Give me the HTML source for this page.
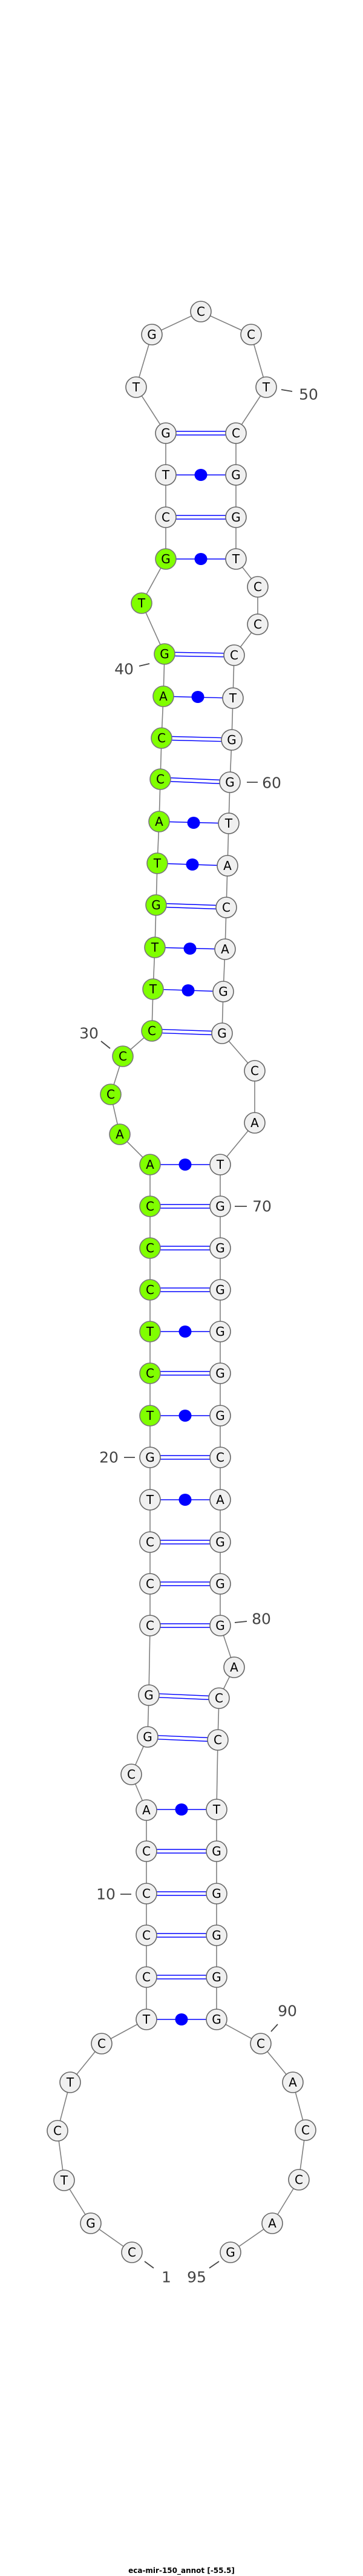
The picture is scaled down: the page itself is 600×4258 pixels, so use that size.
<!DOCTYPE html>
<html><head><meta charset="utf-8"><style>
html,body{margin:0;padding:0;background:#fff;}
svg{display:block;}
.n{fill:#f0f0f0;stroke:#666;stroke-width:1.6;}
.g{fill:#80ff00;stroke:#777;stroke-width:1.6;}
.t{font-family:"DejaVu Sans","Liberation Sans",sans-serif;font-size:20px;fill:#000;text-anchor:middle;dominant-baseline:central;}
.l{font-family:"DejaVu Sans","Liberation Sans",sans-serif;font-size:25px;fill:#444;text-anchor:middle;dominant-baseline:central;}
.p{stroke:#00f;stroke-width:1.4;fill:none;}
.tk{stroke:#444;stroke-width:1.8;}
</style></head><body>
<svg width="600" height="4258" viewBox="0 0 600 4258" xmlns="http://www.w3.org/2000/svg">
<polyline fill="none" stroke="#808080" stroke-width="1.6" points="218,3723 150,3675 106,3604 95,3522 116,3442 168,3378 242,3338 242,3268 242,3199 242,3130 242,3060 242,2992 217,2933 244,2871 246,2802 248,2687 248,2618 248,2549 248,2479 248,2409 248,2340 248,2270 248,2201 248,2132 248,2063 248,1994 248,1925 198,1875 183,1809 203,1746 251,1704 253,1635 256,1566 258,1496 260,1427 263,1358 265,1288 267,1220 270,1151 272,1081 234,997 274,924 274,855 274,785 274,716 225,640 251,553 332,515 415,553 440,640 390,716 390,785 390,855 390,924 426,970 426,1032 387,1083 385,1154 383,1223 380,1293 378,1361 376,1431 374,1500 372,1569 369,1639 367,1708 421,1770 421,1856 364,1925 364,1994 364,2063 364,2132 364,2201 364,2270 364,2340 364,2409 364,2479 364,2549 364,2618 364,2687 387,2756 362,2807 360,2876 358,2991 358,3060 358,3130 358,3199 358,3268 358,3338 431,3378 484,3442 505,3521 494,3603 450,3675 381,3723"/>
<!-- double pairs -->
<g class="p">
<path d="M274,713 L390,713 M274,719 L390,719"/>
<path d="M274,852 L390,852 M274,858 L390,858"/>
<path d="M272,1078 L387,1080 M272,1084 L387,1086"/>
<path d="M267,1217 L383,1220 M267,1223 L383,1226"/>
<path d="M265,1285 L380,1290 M265,1291 L380,1296"/>
<path d="M258,1493 L374,1497 M258,1499 L374,1503"/>
<path d="M251,1701 L367,1705 M251,1707 L367,1711"/>
<path d="M248,1991 L364,1991 M248,1997 L364,1997"/>
<path d="M248,2060 L364,2060 M248,2066 L364,2066"/>
<path d="M248,2129 L364,2129 M248,2135 L364,2135"/>
<path d="M248,2267 L364,2267 M248,2273 L364,2273"/>
<path d="M248,2406 L364,2406 M248,2412 L364,2412"/>
<path d="M248,2546 L364,2546 M248,2552 L364,2552"/>
<path d="M248,2615 L364,2615 M248,2621 L364,2621"/>
<path d="M248,2684 L364,2684 M248,2690 L364,2690"/>
<path d="M246,2799 L362,2804 M246,2805 L362,2810"/>
<path d="M244,2868 L360,2873 M244,2874 L360,2879"/>
<path d="M242,3057 L358,3057 M242,3063 L358,3063"/>
<path d="M242,3127 L358,3127 M242,3133 L358,3133"/>
<path d="M242,3196 L358,3196 M242,3202 L358,3202"/>
<path d="M242,3265 L358,3265 M242,3271 L358,3271"/>
<path d="M274,785 L390,785"/><path d="M274,924 L390,924"/>
<path d="M270,1151 L385,1154"/><path d="M263,1358 L378,1361"/>
<path d="M260,1427 L376,1431"/><path d="M256,1566 L372,1569"/>
<path d="M253,1635 L369,1639"/><path d="M248,1925 L364,1925"/>
<path d="M248,2201 L364,2201"/><path d="M248,2340 L364,2340"/>
<path d="M248,2479 L364,2479"/><path d="M242,2991 L358,2991"/>
<path d="M242,3338 L358,3338"/>
</g>
<g fill="#00f">
<ellipse cx="332" cy="785" rx="10.5" ry="10"/><ellipse cx="332" cy="924" rx="10.5" ry="10"/>
<ellipse cx="327" cy="1152" rx="10.5" ry="10"/><ellipse cx="320" cy="1360" rx="10.5" ry="10"/>
<ellipse cx="318" cy="1429" rx="10.5" ry="10"/><ellipse cx="314" cy="1568" rx="10.5" ry="10"/>
<ellipse cx="311" cy="1637" rx="10.5" ry="10"/><ellipse cx="306" cy="1925" rx="10.5" ry="10"/>
<ellipse cx="306" cy="2201" rx="10.5" ry="10"/><ellipse cx="306" cy="2340" rx="10.5" ry="10"/>
<ellipse cx="306" cy="2479" rx="10.5" ry="10"/><ellipse cx="300" cy="2991" rx="10.5" ry="10"/>
<ellipse cx="300" cy="3338" rx="10.5" ry="10"/>
</g>
<!-- nodes -->
<g>
<circle class="n" cx="218" cy="3723" r="17"/><text class="t" x="218" y="3723">C</text>
<circle class="n" cx="150" cy="3675" r="17"/><text class="t" x="150" y="3675">G</text>
<circle class="n" cx="106" cy="3604" r="17"/><text class="t" x="106" y="3604">T</text>
<circle class="n" cx="95" cy="3522" r="17"/><text class="t" x="95" y="3522">C</text>
<circle class="n" cx="116" cy="3442" r="17"/><text class="t" x="116" y="3442">T</text>
<circle class="n" cx="168" cy="3378" r="17"/><text class="t" x="168" y="3378">C</text>
<circle class="n" cx="242" cy="3338" r="17"/><text class="t" x="242" y="3338">T</text>
<circle class="n" cx="242" cy="3268" r="17"/><text class="t" x="242" y="3268">C</text>
<circle class="n" cx="242" cy="3199" r="17"/><text class="t" x="242" y="3199">C</text>
<circle class="n" cx="242" cy="3130" r="17"/><text class="t" x="242" y="3130">C</text>
<circle class="n" cx="242" cy="3060" r="17"/><text class="t" x="242" y="3060">C</text>
<circle class="n" cx="242" cy="2992" r="17"/><text class="t" x="242" y="2992">A</text>
<circle class="n" cx="217" cy="2933" r="17"/><text class="t" x="217" y="2933">C</text>
<circle class="n" cx="244" cy="2871" r="17"/><text class="t" x="244" y="2871">G</text>
<circle class="n" cx="246" cy="2802" r="17"/><text class="t" x="246" y="2802">G</text>
<circle class="n" cx="248" cy="2687" r="17"/><text class="t" x="248" y="2687">C</text>
<circle class="n" cx="248" cy="2618" r="17"/><text class="t" x="248" y="2618">C</text>
<circle class="n" cx="248" cy="2549" r="17"/><text class="t" x="248" y="2549">C</text>
<circle class="n" cx="248" cy="2479" r="17"/><text class="t" x="248" y="2479">T</text>
<circle class="n" cx="248" cy="2409" r="17"/><text class="t" x="248" y="2409">G</text>
<circle class="g" cx="248" cy="2340" r="17"/><text class="t" x="248" y="2340">T</text>
<circle class="g" cx="248" cy="2270" r="17"/><text class="t" x="248" y="2270">C</text>
<circle class="g" cx="248" cy="2201" r="17"/><text class="t" x="248" y="2201">T</text>
<circle class="g" cx="248" cy="2132" r="17"/><text class="t" x="248" y="2132">C</text>
<circle class="g" cx="248" cy="2063" r="17"/><text class="t" x="248" y="2063">C</text>
<circle class="g" cx="248" cy="1994" r="17"/><text class="t" x="248" y="1994">C</text>
<circle class="g" cx="248" cy="1925" r="17"/><text class="t" x="248" y="1925">A</text>
<circle class="g" cx="198" cy="1875" r="17"/><text class="t" x="198" y="1875">A</text>
<circle class="g" cx="183" cy="1809" r="17"/><text class="t" x="183" y="1809">C</text>
<circle class="g" cx="203" cy="1746" r="17"/><text class="t" x="203" y="1746">C</text>
<circle class="g" cx="251" cy="1704" r="17"/><text class="t" x="251" y="1704">C</text>
<circle class="g" cx="253" cy="1635" r="17"/><text class="t" x="253" y="1635">T</text>
<circle class="g" cx="256" cy="1566" r="17"/><text class="t" x="256" y="1566">T</text>
<circle class="g" cx="258" cy="1496" r="17"/><text class="t" x="258" y="1496">G</text>
<circle class="g" cx="260" cy="1427" r="17"/><text class="t" x="260" y="1427">T</text>
<circle class="g" cx="263" cy="1358" r="17"/><text class="t" x="263" y="1358">A</text>
<circle class="g" cx="265" cy="1288" r="17"/><text class="t" x="265" y="1288">C</text>
<circle class="g" cx="267" cy="1220" r="17"/><text class="t" x="267" y="1220">C</text>
<circle class="g" cx="270" cy="1151" r="17"/><text class="t" x="270" y="1151">A</text>
<circle class="g" cx="272" cy="1081" r="17"/><text class="t" x="272" y="1081">G</text>
<circle class="g" cx="234" cy="997" r="17"/><text class="t" x="234" y="997">T</text>
<circle class="g" cx="274" cy="924" r="17"/><text class="t" x="274" y="924">G</text>
<circle class="n" cx="274" cy="855" r="17"/><text class="t" x="274" y="855">C</text>
<circle class="n" cx="274" cy="785" r="17"/><text class="t" x="274" y="785">T</text>
<circle class="n" cx="274" cy="716" r="17"/><text class="t" x="274" y="716">G</text>
<circle class="n" cx="225" cy="640" r="17"/><text class="t" x="225" y="640">T</text>
<circle class="n" cx="251" cy="553" r="17"/><text class="t" x="251" y="553">G</text>
<circle class="n" cx="332" cy="515" r="17"/><text class="t" x="332" y="515">C</text>
<circle class="n" cx="415" cy="553" r="17"/><text class="t" x="415" y="553">C</text>
<circle class="n" cx="440" cy="640" r="17"/><text class="t" x="440" y="640">T</text>
<circle class="n" cx="390" cy="716" r="17"/><text class="t" x="390" y="716">C</text>
<circle class="n" cx="390" cy="785" r="17"/><text class="t" x="390" y="785">G</text>
<circle class="n" cx="390" cy="855" r="17"/><text class="t" x="390" y="855">G</text>
<circle class="n" cx="390" cy="924" r="17"/><text class="t" x="390" y="924">T</text>
<circle class="n" cx="426" cy="970" r="17"/><text class="t" x="426" y="970">C</text>
<circle class="n" cx="426" cy="1032" r="17"/><text class="t" x="426" y="1032">C</text>
<circle class="n" cx="387" cy="1083" r="17"/><text class="t" x="387" y="1083">C</text>
<circle class="n" cx="385" cy="1154" r="17"/><text class="t" x="385" y="1154">T</text>
<circle class="n" cx="383" cy="1223" r="17"/><text class="t" x="383" y="1223">G</text>
<circle class="n" cx="380" cy="1293" r="17"/><text class="t" x="380" y="1293">G</text>
<circle class="n" cx="378" cy="1361" r="17"/><text class="t" x="378" y="1361">T</text>
<circle class="n" cx="376" cy="1431" r="17"/><text class="t" x="376" y="1431">A</text>
<circle class="n" cx="374" cy="1500" r="17"/><text class="t" x="374" y="1500">C</text>
<circle class="n" cx="372" cy="1569" r="17"/><text class="t" x="372" y="1569">A</text>
<circle class="n" cx="369" cy="1639" r="17"/><text class="t" x="369" y="1639">G</text>
<circle class="n" cx="367" cy="1708" r="17"/><text class="t" x="367" y="1708">G</text>
<circle class="n" cx="421" cy="1770" r="17"/><text class="t" x="421" y="1770">C</text>
<circle class="n" cx="421" cy="1856" r="17"/><text class="t" x="421" y="1856">A</text>
<circle class="n" cx="364" cy="1925" r="17"/><text class="t" x="364" y="1925">T</text>
<circle class="n" cx="364" cy="1994" r="17"/><text class="t" x="364" y="1994">G</text>
<circle class="n" cx="364" cy="2063" r="17"/><text class="t" x="364" y="2063">G</text>
<circle class="n" cx="364" cy="2132" r="17"/><text class="t" x="364" y="2132">G</text>
<circle class="n" cx="364" cy="2201" r="17"/><text class="t" x="364" y="2201">G</text>
<circle class="n" cx="364" cy="2270" r="17"/><text class="t" x="364" y="2270">G</text>
<circle class="n" cx="364" cy="2340" r="17"/><text class="t" x="364" y="2340">G</text>
<circle class="n" cx="364" cy="2409" r="17"/><text class="t" x="364" y="2409">C</text>
<circle class="n" cx="364" cy="2479" r="17"/><text class="t" x="364" y="2479">A</text>
<circle class="n" cx="364" cy="2549" r="17"/><text class="t" x="364" y="2549">G</text>
<circle class="n" cx="364" cy="2618" r="17"/><text class="t" x="364" y="2618">G</text>
<circle class="n" cx="364" cy="2687" r="17"/><text class="t" x="364" y="2687">G</text>
<circle class="n" cx="387" cy="2756" r="17"/><text class="t" x="387" y="2756">A</text>
<circle class="n" cx="362" cy="2807" r="17"/><text class="t" x="362" y="2807">C</text>
<circle class="n" cx="360" cy="2876" r="17"/><text class="t" x="360" y="2876">C</text>
<circle class="n" cx="358" cy="2991" r="17"/><text class="t" x="358" y="2991">T</text>
<circle class="n" cx="358" cy="3060" r="17"/><text class="t" x="358" y="3060">G</text>
<circle class="n" cx="358" cy="3130" r="17"/><text class="t" x="358" y="3130">G</text>
<circle class="n" cx="358" cy="3199" r="17"/><text class="t" x="358" y="3199">G</text>
<circle class="n" cx="358" cy="3268" r="17"/><text class="t" x="358" y="3268">G</text>
<circle class="n" cx="358" cy="3338" r="17"/><text class="t" x="358" y="3338">G</text>
<circle class="n" cx="431" cy="3378" r="17"/><text class="t" x="431" y="3378">C</text>
<circle class="n" cx="484" cy="3442" r="17"/><text class="t" x="484" y="3442">A</text>
<circle class="n" cx="505" cy="3521" r="17"/><text class="t" x="505" y="3521">C</text>
<circle class="n" cx="494" cy="3603" r="17"/><text class="t" x="494" y="3603">C</text>
<circle class="n" cx="450" cy="3675" r="17"/><text class="t" x="450" y="3675">A</text>
<circle class="n" cx="381" cy="3723" r="17"/><text class="t" x="381" y="3723">G</text>
</g>
<!-- labels -->
<g>
<line class="tk" x1="465" y1="644" x2="483" y2="647"/><text class="l" x="510" y="652">50</text>
<line class="tk" x1="230" y1="1101" x2="247" y2="1097"/><text class="l" x="205" y="1106">40</text>
<line class="tk" x1="408" y1="1293" x2="426" y2="1293"/><text class="l" x="449" y="1294">60</text>
<line class="tk" x1="167" y1="1721" x2="182" y2="1733"/><text class="l" x="147" y="1708">30</text>
<line class="tk" x1="388" y1="1994" x2="408" y2="1994"/><text class="l" x="433" y="1994">70</text>
<line class="tk" x1="205" y1="2409" x2="223" y2="2409"/><text class="l" x="180" y="2409">20</text>
<line class="tk" x1="388" y1="2682" x2="408" y2="2680"/><text class="l" x="432" y="2676">80</text>
<line class="tk" x1="199" y1="3131" x2="217" y2="3131"/><text class="l" x="175" y="3131">10</text>
<line class="tk" x1="448" y1="3358" x2="459" y2="3346"/><text class="l" x="475" y="3324">90</text>
<line class="tk" x1="239" y1="3738" x2="254" y2="3749"/><text class="l" x="275" y="3764">1</text>
<line class="tk" x1="346" y1="3749" x2="362" y2="3738"/><text class="l" x="325" y="3764">95</text>
</g>
<text x="300" y="4253" text-anchor="middle" font-family="DejaVu Sans, Liberation Sans, sans-serif" font-size="12" font-weight="bold" fill="#000">eca-mir-150_annot [-55.5]</text>
</svg>
</body></html>
